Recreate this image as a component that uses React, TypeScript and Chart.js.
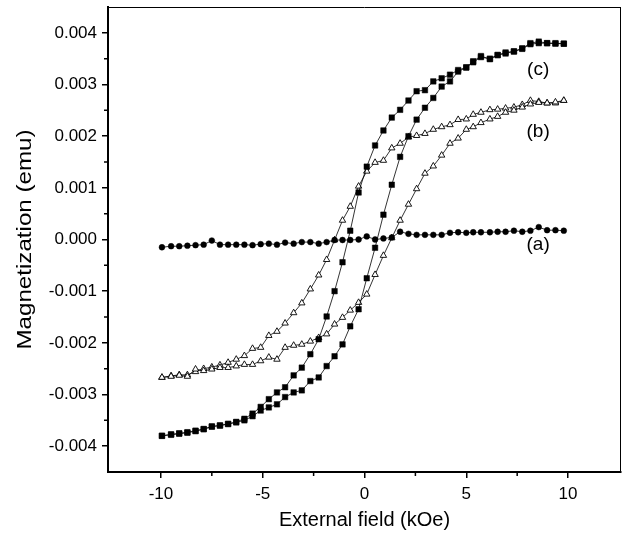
import React, { useEffect, useRef } from 'react';
import { Chart, registerables } from 'chart.js';
Chart.register(...registerables);

// Applied field (kOe) for every measured point
const fieldGrid = [-9.95, -9.5, -9.1, -8.7, -8.3, -7.9, -7.5, -7.1, -6.7, -6.3, -5.9, -5.5, -5.1, -4.7, -4.3, -3.9, -3.48, -3.08, -2.66, -2.25, -1.86, -1.47, -1.08, -0.7, -0.29, 0.11, 0.52, 0.93, 1.34, 1.75, 2.16, 2.56, 2.97, 3.38, 3.79, 4.2, 4.6, 5.0, 5.34, 5.72, 6.16, 6.54, 6.93, 7.34, 7.75, 8.15, 8.56, 8.97, 9.38, 9.79];

// (a) filled circles
const aValues = [-0.00015, -0.00013, -0.00013, -0.00012, -0.00011, -0.0001, -0.00002, -0.0001, -0.0001, -0.0001, -0.0001, -0.00011, -0.00009, -0.00008, -0.0001, -0.00006, -0.00008, -0.00005, -0.00005, -0.00008, -0.00005, -0.00001, -0.00001, -0.00001, 0.0, 0.00006, 0.0, 0.00002, 0.00004, 0.00015, 0.00011, 0.00009, 0.00009, 0.00009, 0.00009, 0.00013, 0.00014, 0.00013, 0.00014, 0.00014, 0.00014, 0.00015, 0.00015, 0.00017, 0.00015, 0.00017, 0.00024, 0.00018, 0.00018, 0.00017];

// (b) open triangles: ascending and descending branches
const bLower = [-0.00267, -0.00265, -0.00263, -0.00265, -0.00251, -0.00254, -0.00251, -0.00248, -0.00248, -0.00245, -0.00242, -0.00242, -0.00235, -0.00228, -0.00232, -0.00209, -0.00205, -0.00203, -0.00197, -0.0019, -0.00183, -0.00164, -0.00151, -0.00137, -0.00122, -0.00106, -0.00068, -0.00031, 0.00003, 0.00037, 0.00068, 0.00098, 0.00128, 0.00142, 0.00163, 0.00186, 0.00196, 0.00213, 0.00218, 0.00226, 0.00233, 0.00238, 0.00246, 0.0025, 0.00256, 0.00262, 0.00265, 0.00264, 0.00266, 0.00269];
const bUpper = [-0.00267, -0.00264, -0.00262, -0.00262, -0.00256, -0.0025, -0.00247, -0.00243, -0.00238, -0.00232, -0.00225, -0.00211, -0.00209, -0.00186, -0.00178, -0.00162, -0.00142, -0.00123, -0.00096, -0.00069, -0.00039, -0.00001, 0.00037, 0.00064, 0.00103, 0.00132, 0.00149, 0.00153, 0.00177, 0.00186, 0.00198, 0.00201, 0.00205, 0.00213, 0.00218, 0.00222, 0.00232, 0.00233, 0.00242, 0.00246, 0.00251, 0.00252, 0.00254, 0.00256, 0.00261, 0.00269, 0.00267, 0.00264, 0.00264, 0.00269];

// (c) filled squares: ascending and descending branches
const cLower = [-0.0038, -0.00377, -0.00375, -0.00373, -0.0037, -0.00367, -0.00362, -0.0036, -0.00357, -0.00354, -0.0035, -0.00342, -0.00331, -0.00325, -0.00319, -0.00305, -0.00296, -0.00292, -0.00274, -0.00267, -0.00245, -0.00226, -0.00203, -0.00168, -0.00135, -0.00075, -0.00016, 0.00048, 0.00106, 0.0016, 0.002, 0.00232, 0.00255, 0.00274, 0.00296, 0.00306, 0.00325, 0.00333, 0.00343, 0.00353, 0.0035, 0.00357, 0.0036, 0.00364, 0.00369, 0.00378, 0.0038, 0.0038, 0.0038, 0.00379];
const cUpper = [-0.0038, -0.00378, -0.00376, -0.00374, -0.00371, -0.00367, -0.00362, -0.0036, -0.00357, -0.00353, -0.00347, -0.00337, -0.00324, -0.00309, -0.00296, -0.00286, -0.00263, -0.00248, -0.00222, -0.00193, -0.00149, -0.001, -0.00044, 0.00017, 0.00091, 0.00141, 0.00182, 0.00211, 0.00236, 0.00251, 0.00269, 0.00287, 0.00289, 0.00306, 0.00312, 0.00319, 0.00328, 0.00333, 0.00345, 0.00355, 0.00349, 0.00357, 0.00362, 0.00364, 0.0037, 0.0038, 0.00383, 0.0038, 0.00379, 0.00379];

const xMajorTicks = [-10, -5, 0, 5, 10];
const xMinorTicks = [-7.5, -2.5, 2.5, 7.5];
const yMajorTicks = [-0.004, -0.003, -0.002, -0.001, 0, 0.001, 0.002, 0.003, 0.004];
const yMinorTicks = [-0.0035, -0.0025, -0.0015, -0.0005, 0.0005, 0.0015, 0.0025, 0.0035];

const curveLabels = ['(c)', '(b)', '(a)'];
const curveLabelX = [8.53, 8.53, 8.53];
const curveLabelY = [0.00329, 0.00209, -0.0001];

const yTitle = 'Magnetization (emu)';
const FONT = '"Liberation Sans", Arial, sans-serif';

const pts = (ys: number[]) => fieldGrid.map((x, i) => ({ x, y: ys[i] }));

const decor = {
  id: 'decor',
  afterDraw(chart: any) {
    const { ctx, chartArea: a, scales } = chart;
    const xs = scales.x;
    const ys = scales.y;
    ctx.save();
    ctx.strokeStyle = '#000';
    ctx.lineWidth = 1;
    ctx.beginPath();
    ctx.moveTo(a.left, a.top + 0.5);
    ctx.lineTo(a.right, a.top + 0.5);
    ctx.moveTo(a.right - 0.5, a.top);
    ctx.lineTo(a.right - 0.5, a.bottom);
    ctx.stroke();
    ctx.lineWidth = 1.5;
    ctx.beginPath();
    xMinorTicks.forEach((v) => {
      const px = xs.getPixelForValue(v);
      ctx.moveTo(px, a.bottom);
      ctx.lineTo(px, a.bottom + 4);
    });
    yMinorTicks.forEach((v) => {
      const py = ys.getPixelForValue(v);
      ctx.moveTo(a.left, py);
      ctx.lineTo(a.left - 4, py);
    });
    ctx.stroke();
    ctx.fillStyle = '#000';
    ctx.font = '19px ' + FONT;
    ctx.textAlign = 'center';
    ctx.textBaseline = 'middle';
    curveLabels.forEach((t, i) => {
      ctx.fillText(t, xs.getPixelForValue(curveLabelX[i]), ys.getPixelForValue(curveLabelY[i]));
    });
    // y-axis title (slightly stretched along its length, as in the scan)
    ctx.translate(25, (a.top + a.bottom) / 2 + 0);
    ctx.rotate(-Math.PI / 2);
    ctx.scale(1.15, 1);
    ctx.font = '21px ' + FONT;
    ctx.fillText(yTitle, 0, 0);
    ctx.restore();
  },
};

export default function App() {
  const ref = useRef<HTMLCanvasElement>(null);
  useEffect(() => {
    if (!ref.current) return;
    const line = { showLine: true, borderColor: '#000', borderWidth: 0.8, pointBorderColor: '#000' };
    const chart = new Chart(ref.current, {
      type: 'scatter',
      data: {
        datasets: [
          { ...line, data: pts(aValues), pointStyle: 'circle', pointRadius: 2.9, pointBackgroundColor: '#000', pointBorderWidth: 0.5 },
          { ...line, data: pts(cLower), pointStyle: 'rect', pointRadius: 3.9, pointBackgroundColor: '#000', pointBorderWidth: 0.5 },
          { ...line, data: pts(cUpper), pointStyle: 'rect', pointRadius: 3.9, pointBackgroundColor: '#000', pointBorderWidth: 0.5 },
          { ...line, data: pts(bLower), pointStyle: 'triangle', pointRadius: 3.7, pointBackgroundColor: '#fff', pointBorderWidth: 0.9 },
          { ...line, data: pts(bUpper), pointStyle: 'triangle', pointRadius: 3.7, pointBackgroundColor: '#fff', pointBorderWidth: 0.9 },
        ],
      } as any,
      options: {
        animation: false,
        responsive: false,
        layout: { padding: { top: 7, right: 7, left: 0, bottom: 0 } },
        plugins: { legend: { display: false }, tooltip: { enabled: false } },
        scales: {
          x: {
            type: 'linear',
            min: -12.6,
            max: 12.6,
            afterBuildTicks: (s: any) => { s.ticks = xMajorTicks.map((v) => ({ value: v })); },
            afterFit: (s: any) => { s.height = 71; s.paddingLeft = 0; s.paddingRight = 0; },
            ticks: { color: '#000', font: { family: FONT, size: 17 }, padding: 6, maxRotation: 0, autoSkip: false, callback: (v: any) => String(v) },
            grid: { drawOnChartArea: false, drawTicks: true, tickLength: 6, color: '#000', lineWidth: 1.5 },
            border: { color: '#000', width: 2 },
            title: { display: true, text: 'External field (kOe)', color: '#000', font: { family: FONT, size: 20 }, padding: { top: 0, bottom: 11 } },
          },
          y: {
            type: 'linear',
            min: -0.0045,
            max: 0.0045,
            afterBuildTicks: (s: any) => { s.ticks = yMajorTicks.map((v) => ({ value: v })); },
            afterFit: (s: any) => { s.width = 108; s.paddingTop = 0; s.paddingBottom = 0; },
            ticks: { color: '#000', font: { family: FONT, size: 17 }, padding: 5, autoSkip: false, callback: (v: any) => Number(v).toFixed(3) },
            grid: { drawOnChartArea: false, drawTicks: true, tickLength: 6, color: '#000', lineWidth: 1.5 },
            border: { color: '#000', width: 2 },
            title: { display: false },
          },
        },
      } as any,
      plugins: [decor],
    });
    return () => chart.destroy();
  }, []);
  return (
    <div style={{ position: 'fixed', left: 0, top: 0, width: 628, height: 543, background: '#fff' }}>
      <canvas ref={ref} width={628} height={543} style={{ display: 'block' }} />
    </div>
  );
}
